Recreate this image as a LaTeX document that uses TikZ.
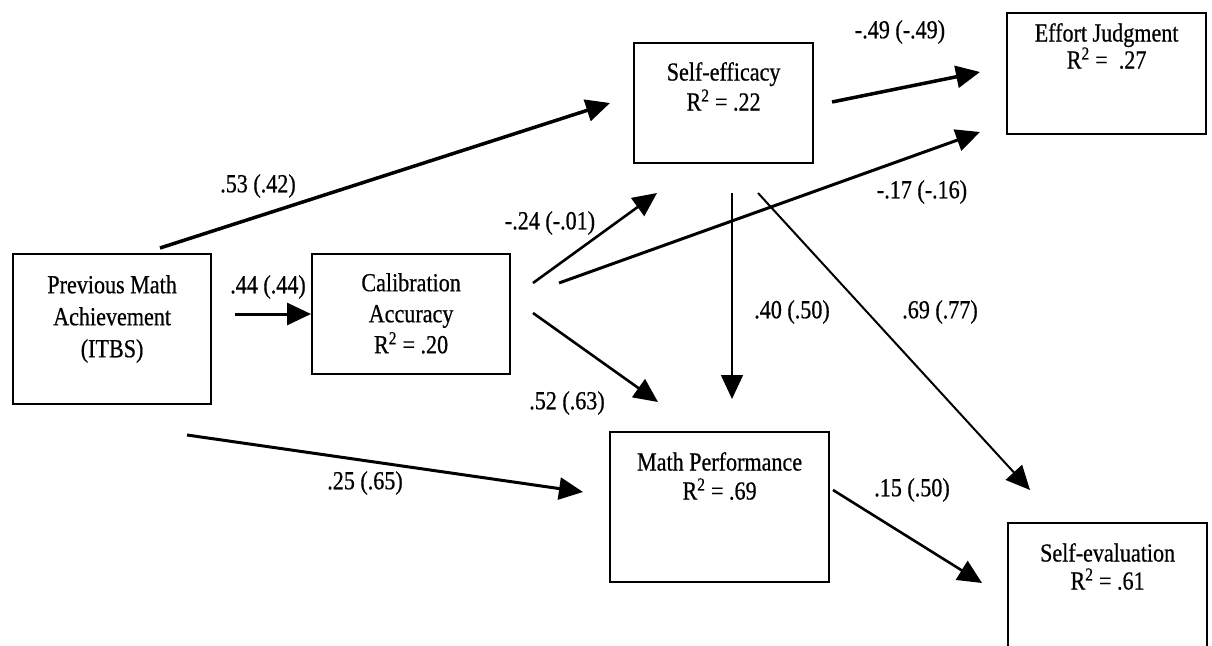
\documentclass[tikz,border=0pt]{standalone}
\usepackage{fontspec}
\setmainfont{Liberation Serif}[FakeStretch=0.85,FakeBold=0.6]
\usetikzlibrary{arrows.meta}
\begin{document}
\begin{tikzpicture}[x=1pt,y=-1pt,
  box/.style={draw, line width=2.2pt, inner sep=0pt, anchor=north west},
  boxtext/.style={anchor=north, align=center, inner sep=0pt, font=\fontsize{26}{#1}\selectfont},
  lab/.style={inner sep=0pt, font=\fontsize{26}{30}\selectfont},
  arr/.style={-{Triangle[length=24pt,width=22pt]}, line width=#1},
  arr/.default=3pt]
\useasboundingbox (0,0) rectangle (1212,645);
\clip (0,0) rectangle (1212,645);
\fill[white] (0,0) rectangle (1212,645);

% boxes
\node[box, minimum width=198pt, minimum height=150pt] (pma) at (12,253) {};
\node[box, minimum width=198pt, minimum height=120pt] (cal) at (311,253) {};
\node[box, minimum width=179pt, minimum height=120pt] (se) at (633,42) {};
\node[box, minimum width=199pt, minimum height=121pt] (ej) at (1006,12) {};
\node[box, minimum width=219pt, minimum height=150pt] (mp) at (609,431) {};
\node[box, minimum width=199pt, minimum height=160pt] (sev) at (1007,522) {};

% box texts
\node[boxtext=32pt] (tpma) at ([yshift=-22pt]pma.north) {Previous Math\\Achievement\\(ITBS)};
\node[boxtext=31pt] (tcal) at ([yshift=-20pt]cal.north) {Calibration\\Accuracy\\R\textsuperscript{2} = .20};
\node[boxtext=30pt] (tse) at ([yshift=-20pt]se.north) {Self-efficacy\\R\textsuperscript{2} = .22};
\node[boxtext=27pt] (tej) at ([yshift=-11pt]ej.north) {Effort Judgment\\R\textsuperscript{2} = \ .27};
\node[boxtext=29pt] (tmp) at ([yshift=-21pt]mp.north) {Math Performance\\R\textsuperscript{2} = .69};
\node[boxtext=28pt] (tsev) at ([yshift=-21pt]sev.north) {Self-evaluation\\R\textsuperscript{2} = .61};

% connector end points
\coordinate (a1s) at (160,248);  \coordinate (a1e) at (610,103);
\coordinate (a2s) at (235,314);
\coordinate (a3s) at (533,283);  \coordinate (a3e) at (657,193);
\coordinate (a4s) at (559,283);  \coordinate (a4e) at (980,132);
\coordinate (a5s) at (533,313);  \coordinate (a5e) at (658,402);
\coordinate (a6s) at (732,193);  \coordinate (a6e) at (732,399);
\coordinate (a7s) at (758,193);  \coordinate (a7e) at (1030,490);
\coordinate (a8s) at (832,102);  \coordinate (a8e) at (980,72);
\coordinate (a9s) at (187,435);  \coordinate (a9e) at (583,492);
\coordinate (a10s) at (833,490); \coordinate (a10e) at (982,583);

% connectors
\draw[arr=3.5pt] (a1s) -- (a1e);
\draw[arr=3pt] (a2s) -- (cal.west |- a2s);
\draw[arr=2.6pt] (a3s) -- (a3e);
\draw[arr=3pt] (a4s) -- (a4e);
\draw[arr=2.6pt] (a5s) -- (a5e);
\draw[arr=1.5pt] (a6s) -- (a6e);
\draw[arr=2pt] (a7s) -- (a7e);
\draw[arr=3.5pt] (a8s) -- (a8e);
\draw[arr=3pt] (a9s) -- (a9e);
\draw[arr=2.6pt] (a10s) -- (a10e);

% labels
\node[lab] (l1) at (258,186) {.53 (.42)};
\node[lab] (l2) at (268,287) {.44 (.44)};
\node[lab] (l3) at (550,223) {-.24 (-.01)};
\node[lab] (l4) at (922,192) {-.17 (-.16)};
\node[lab] (l5) at (567,403) {.52 (.63)};
\node[lab] (l6) at (792,312) {.40 (.50)};
\node[lab] (l7) at (940,312) {.69 (.77)};
\node[lab] (l8) at (900,32) {-.49 (-.49)};
\node[lab] (l9) at (365,483) {.25 (.65)};
\node[lab] (l10) at (912,490) {.15 (.50)};
\end{tikzpicture}
\end{document}
